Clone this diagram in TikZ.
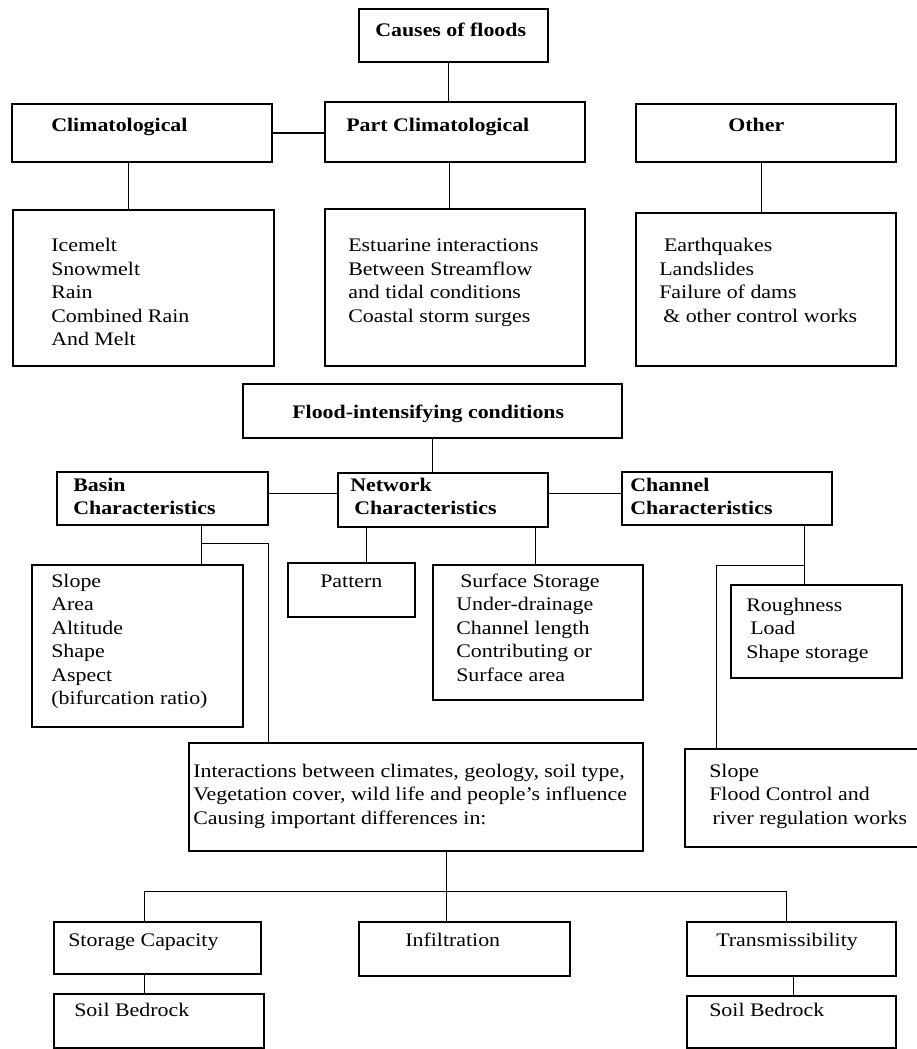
\documentclass[tikz,border=0pt]{standalone}
\usepackage{fontspec}
\setmainfont{Liberation Serif}[FakeStretch=1.14]
\usetikzlibrary{calc,fit}
\tikzset{
  box/.style={draw, line width=0.9pt, inner sep=0pt},
  tx/.style={anchor=north west, inner sep=0pt, align=left, font=\fontsize{12}{14.7}\selectfont},
  btx/.style={tx, font=\fontsize{12}{14.7}\selectfont\bfseries},
  link/.style={line width=0.9pt}
}
\begin{document}
\begin{tikzpicture}[x=0.625pt,y=-0.625pt]
\useasboundingbox (0,0) rectangle (917,1049);
\clip (0,0) rectangle (917,1049);
\fill[white] (0,0) rectangle (917,1049);

% boxes
\node[box, fit={(359,9) (548,62)}] (causes) {};
\node[box, fit={(12,104) (272,162)}] (clim) {};
\node[box, fit={(325,102) (585,162)}] (part) {};
\node[box, fit={(636,104) (896,162)}] (other) {};
\node[box, fit={(13,210) (274,366)}] (climlist) {};
\node[box, fit={(325,209) (585,366)}] (partlist) {};
\node[box, fit={(636,213) (896,366)}] (otherlist) {};
\node[box, fit={(243,384) (622,438)}] (flood) {};
\node[box, fit={(57,472) (268,525)}] (basin) {};
\node[box, fit={(338,473) (548,527)}] (network) {};
\node[box, fit={(622,472) (832,525)}] (channel) {};
\node[box, fit={(32,565) (243,727)}] (slopelist) {};
\node[box, fit={(288,563) (415,617)}] (pattern) {};
\node[box, fit={(433,565) (643,700)}] (surface) {};
\node[box, fit={(731,585) (902,678)}] (rough) {};
\node[box, fit={(685,749) (925,847)}] (chslope) {};
\node[box, fit={(189,743) (643,851)}] (inter) {};
\node[box, fit={(54,922) (261,974)}] (storage) {};
\node[box, fit={(359,922) (570,976)}] (infil) {};
\node[box, fit={(687,922) (896,976)}] (trans) {};
\node[box, fit={(54,994) (264,1048)}] (soil1) {};
\node[box, fit={(687,996) (896,1048)}] (soil2) {};

% texts
\node[btx] (causes-t) at (375,19.5) {\strut Causes of floods};
\node[btx] (clim-t) at (51,114.5) {\strut Climatological};
\node[btx] (part-t) at (346,114.5) {\strut Part Climatological};
\node[btx] (other-t) at (728,114.5) {\strut Other};
\node[tx] (climlist-t) at (51,235) {\strut Icemelt\\Snowmelt\\Rain\\Combined Rain\\And Melt};
\node[tx] (partlist-t) at (348,235) {\strut Estuarine interactions\\Between Streamflow\\and tidal conditions\\Coastal storm surges};
\node[tx] (otherlist-t) at (659,235) {\strut\hspace{3pt}Earthquakes\\Landslides\\Failure of dams\\\hspace{2.5pt}\& other control works};
\node[btx] (flood-t) at (292,401.5) {\strut Flood-intensifying conditions};
\node[btx] (basin-t) at (73,474.5) {\strut Basin\\Characteristics};
\node[btx] (network-t) at (350,474.5) {\strut Network\\\hspace{2.5pt}Characteristics};
\node[btx] (channel-t) at (630,474.5) {\strut Channel\\Characteristics};
\node[tx] (slopelist-t) at (51,570.5) {\strut Slope\\Area\\Altitude\\Shape\\Aspect\\(bifurcation ratio)};
\node[tx] (pattern-t) at (320,570.5) {\strut Pattern};
\node[tx] (surface-t) at (456,570.5) {\strut\hspace{2.5pt}Surface Storage\\Under-drainage\\Channel length\\Contributing or\\Surface area};
\node[tx] (rough-t) at (746,594.5) {\strut Roughness\\\hspace{2.5pt}Load\\Shape storage};
\node[tx] (chslope-t) at (709,760.5) {\strut Slope\\Flood Control and\\\hspace{2pt}river regulation works};
\node[tx] (inter-t) at (193,760.5) {\strut Interactions between climates, geology, soil type,\\Vegetation cover, wild life and people’s influence\\Causing important differences in:};
\node[tx] (storage-t) at (68,929.5) {\strut Storage Capacity};
\node[tx] (infil-t) at (405,929.5) {\strut Infiltration};
\node[tx] (trans-t) at (716,929.5) {\strut Transmissibility};
\node[tx] (soil1-t) at (74,999.5) {\strut Soil Bedrock};
\node[tx] (soil2-t) at (709,999.5) {\strut Soil Bedrock};

% connectors
\coordinate (j1) at ($(causes.south west)+(90,0)$);
\draw[link] (j1) -- (j1 |- part.north);
\draw[link] (clim.east) -- (clim.east -| part.west);
\coordinate (j2) at ($(clim.south west)+(117,0)$);
\draw[link] (j2) -- (j2 |- climlist.north);
\coordinate (j3) at ($(part.south west)+(125,0)$);
\draw[link] (j3) -- (j3 |- partlist.north);
\coordinate (j4) at ($(other.south west)+(126,0)$);
\draw[link] (j4) -- (j4 |- otherlist.north);
\coordinate (j5) at ($(flood.south west)+(190,0)$);
\draw[link] (j5) -- (j5 |- network.north);
\coordinate (j6) at ($(basin.north east)+(0,22)$);
\draw[link] (j6) -- (j6 -| network.west);
\coordinate (j7) at ($(network.north east)+(0,21)$);
\draw[link] (j7) -- (j7 -| channel.west);
\coordinate (j8) at ($(basin.south west)+(145,0)$);
\coordinate (j9) at ($(j8)+(0,18)$);
\draw[link] (j8) -- (j8 |- slopelist.north);
\draw[link] (j9) -- (j9 -| basin.east) -- (basin.east |- inter.north);
\coordinate (j10) at ($(network.south west)+(29,0)$);
\draw[link] (j10) -- (j10 |- pattern.north);
\coordinate (j11) at ($(network.south west)+(198,0)$);
\draw[link] (j11) -- (j11 |- surface.north);
\coordinate (j12) at ($(channel.south west)+(183,0)$);
\draw[link] (j12) -- (j12 |- rough.north);
\coordinate (j13) at ($(j12)+(0,40)$);
\coordinate (j14) at ($(chslope.north west)+(32,0)$);
\draw[link] (j13) -- (j13 -| j14) -- (j14);
\coordinate (j15) at ($(inter.south west)+(258,0)$);
\coordinate (j16) at ($(j15)+(0,40)$);
\draw[link] (j15) -- (j15 |- infil.north);
\coordinate (j17) at ($(storage.north west)+(91,0)$);
\coordinate (j18) at ($(trans.north west)+(100,0)$);
\draw[link] (j17) -- (j17 |- j16) -- (j18 |- j16) -- (j18);
\coordinate (j19) at ($(storage.south west)+(91,0)$);
\draw[link] (j19) -- (j19 |- soil1.north);
\coordinate (j20) at ($(trans.south west)+(107,0)$);
\draw[link] (j20) -- (j20 |- soil2.north);
\end{tikzpicture}
\end{document}
